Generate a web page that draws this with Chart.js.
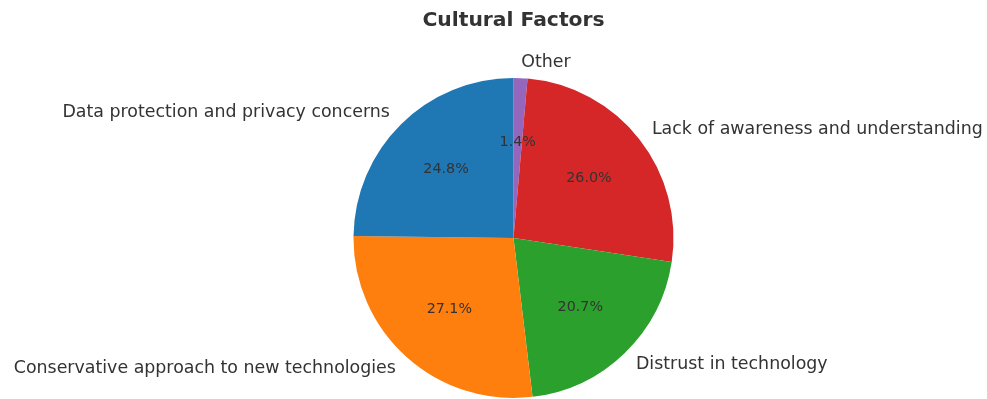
<!DOCTYPE html>
<html>
<head>
<meta charset="utf-8">
<script src="https://cdn.jsdelivr.net/npm/chart.js@4/dist/chart.umd.min.js"></script>
<style>
  html, body { margin: 0; padding: 0; background: #ffffff; }
  #wrap { width: 987px; height: 399px; }
</style>
</head>
<body>
<div id="wrap"><canvas id="pie" width="987" height="399"></canvas></div>
<script>
// Slices listed clockwise from 12 o'clock
const categories = [
  'Other',
  'Lack of awareness and understanding',
  'Distrust in technology',
  'Conservative approach to new technologies',
  'Data protection and privacy concerns'
];
const shares = [1.4, 26.0, 20.7, 27.1, 24.8];
const sliceColors = ['#9467bd', '#d62728', '#2ca02c', '#ff7f0e', '#1f77b4'];
const chartTitle = 'Cultural Factors';

const FONT = '"DejaVu Sans", "Liberation Sans", sans-serif';
const TEXT = '#333333';

// Draws the title, the category labels outside the pie and the percentages inside
const pieText = {
  id: 'pieText',
  afterDatasetsDraw(chart) {
    const ctx = chart.ctx;
    const meta = chart.getDatasetMeta(0);
    const total = shares.reduce((a, b) => a + b, 0);
    ctx.save();
    ctx.fillStyle = TEXT;

    // title
    const area = chart.chartArea;
    const cx = (area.left + area.right) / 2;
    ctx.font = 'bold 20.3px ' + FONT;
    ctx.textAlign = 'center';
    ctx.textBaseline = 'middle';
    ctx.fillText(chartTitle, cx, 21);

    meta.data.forEach((arc, i) => {
      const p = arc.getProps(['x', 'y', 'startAngle', 'endAngle', 'outerRadius'], true);
      const mid = (p.startAngle + p.endAngle) / 2;
      const c = Math.cos(mid), s = Math.sin(mid);

      // category label at 1.1 radius
      const lx = p.x + c * p.outerRadius * 1.1;
      const ly = p.y + s * p.outerRadius * 1.1;
      ctx.font = '17.4px ' + FONT;
      ctx.textAlign = c >= 0 ? 'left' : 'right';
      ctx.textBaseline = 'middle';
      ctx.fillText(categories[i], lx, ly);

      // percentage at 0.6 radius
      const px = p.x + c * p.outerRadius * 0.6;
      const py = p.y + s * p.outerRadius * 0.6;
      ctx.font = '14.3px ' + FONT;
      ctx.textAlign = 'center';
      ctx.fillText((shares[i] / total * 100).toFixed(1) + '%', px, py);
    });
    ctx.restore();
  }
};

new Chart(document.getElementById('pie'), {
  type: 'pie',
  data: {
    labels: categories,
    datasets: [{
      data: shares,
      backgroundColor: sliceColors,
      borderWidth: 0
    }]
  },
  options: {
    responsive: false,
    animation: false,
    layout: { padding: { left: 353.5, right: 313.5, top: 78, bottom: 1 } },
    plugins: {
      legend: { display: false },
      title: { display: false },
      tooltip: { enabled: false }
    }
  },
  plugins: [pieText]
});
</script>
</body>
</html>
